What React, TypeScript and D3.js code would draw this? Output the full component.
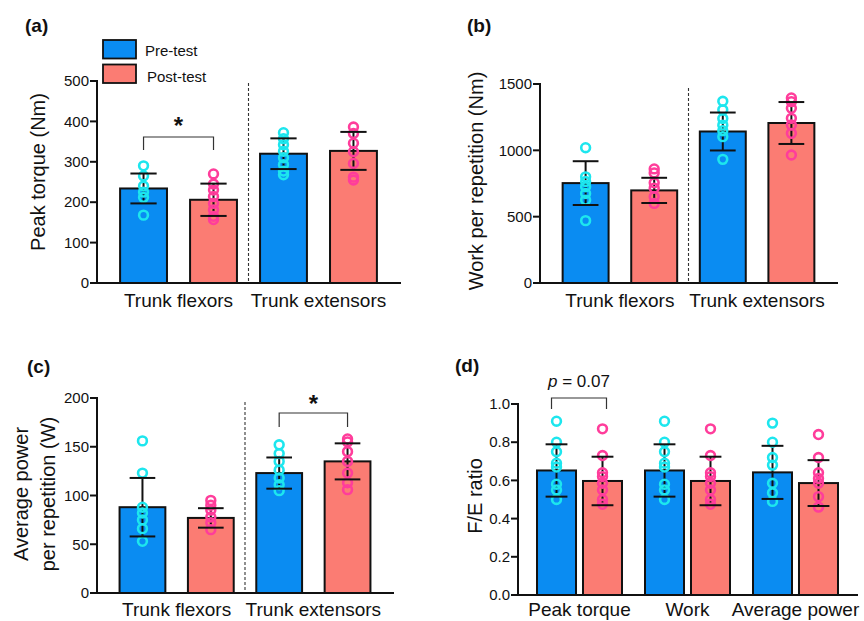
import React from "react";
import * as d3 from "d3";

// ---------- categories ----------
const trunkGroups = ["Trunk flexors", "Trunk extensors"];
const ratioGroups = ["Peak torque", "Work", "Average power"];
const seriesNames = ["Pre-test", "Post-test"];

// ---------- (a) Peak torque (Nm) ----------
const torquePreMean = [234, 320];
const torquePreSD = [37, 38];
const torquePostMean = [206, 327];
const torquePostSD = [40, 47];
const torquePrePoints = [
  [290, 265, 240, 225, 212, 168],
  [372, 357, 342, 326, 310, 293, 277, 268],
];
const torquePostPoints = [
  [270, 245, 230, 214, 197, 181, 165, 157],
  [386, 370, 346, 325, 296, 262, 255],
];
const torqueTicks = [0, 100, 200, 300, 400, 500];

// ---------- (b) Work per repetition (Nm) ----------
const workPreMean = [753, 1142];
const workPreSD = [165, 143];
const workPostMean = [698, 1206];
const workPostSD = [95, 158];
const workPrePoints = [
  [1020, 800, 765, 725, 675, 625, 470],
  [1370, 1305, 1240, 1190, 1148, 1103, 932],
];
const workPostPoints = [
  [860, 830, 755, 715, 650, 600],
  [1395, 1367, 1317, 1241, 1191, 1128, 965],
];
const workTicks = [0, 500, 1000, 1500];

// ---------- (c) Average power per repetition (W) ----------
const powerPreMean = [88, 123];
const powerPreSD = [30, 16];
const powerPostMean = [77, 135];
const powerPostSD = [10, 18.5];
const powerPrePoints = [
  [156, 123, 88, 82, 75, 66, 53],
  [152, 143, 135, 126, 118, 111, 105],
];
const powerPostPoints = [
  [95, 90, 85, 78, 72, 65],
  [158, 155, 145, 135, 123, 113, 106],
];
const powerTicks = [0, 50, 100, 150, 200];

// ---------- (d) F/E ratio ----------
const ratioPreMean = [0.652, 0.652, 0.642];
const ratioPreSD = [0.137, 0.137, 0.139];
const ratioPostMean = [0.597, 0.597, 0.586];
const ratioPostSD = [0.127, 0.127, 0.12];
const ratioPrePoints = [
  [0.91, 0.8, 0.75, 0.69, 0.67, 0.58, 0.55, 0.5],
  [0.91, 0.8, 0.75, 0.69, 0.67, 0.58, 0.55, 0.5],
  [0.9, 0.8, 0.72, 0.68, 0.585, 0.535, 0.49],
];
const ratioPostPoints = [
  [0.87, 0.73, 0.64, 0.62, 0.585, 0.55, 0.5, 0.475],
  [0.87, 0.73, 0.64, 0.62, 0.585, 0.55, 0.5, 0.475],
  [0.84, 0.72, 0.64, 0.61, 0.585, 0.515, 0.46],
];
const ratioTicks = [0, 0.2, 0.4, 0.6, 0.8, 1.0];

// ---------- styles ----------
const FONT = "'Liberation Sans', Arial, Helvetica, sans-serif";
const barFill = ["#0a8cf2", "#fb7c73"];
const dotStroke = ["#1de6ee", "#ff3d9b"];

type PanelCfg = {
  tag: string;
  tagX: number;
  tagY: number;
  groups: string[];
  means: number[][];
  sds: number[][];
  points: number[][][];
  ticks: number[];
  fmt: (v: number) => string;
  left: number;
  right: number;
  top: number;
  bottom: number;
  pIn: number;
  pOut: number;
  barPad: number;
  yLabel: string[];
  yLabelX: number[];
  yLabelCY: number;
  xLabelY: number;
  divider?: { y1: number };
  bracket?: { g: number; top: number; drop: number; text: string; textY: number; dx1?: number; dx2?: number };
};

const panels: PanelCfg[] = [
  {
    tag: "(a)", tagX: 25, tagY: 32,
    groups: trunkGroups,
    means: [torquePreMean, torquePostMean],
    sds: [torquePreSD, torquePostSD],
    points: [torquePrePoints, torquePostPoints],
    ticks: torqueTicks, fmt: d3.format("d"),
    left: 97, right: 400, top: 81, bottom: 283,
    pIn: 0.165, pOut: 0.165, barPad: 0.33,
    yLabel: ["Peak torque (Nm)"], yLabelX: [44.5], yLabelCY: 172,
    xLabelY: 307,
    divider: { y1: 83 },
    bracket: { g: 0, top: 137, drop: 13, text: "*", textY: 134 },
  },
  {
    tag: "(b)", tagX: 467, tagY: 32,
    groups: trunkGroups,
    means: [workPreMean, workPostMean],
    sds: [workPreSD, workPostSD],
    points: [workPrePoints, workPostPoints],
    ticks: workTicks, fmt: d3.format("d"),
    left: 540, right: 837, top: 84, bottom: 283,
    pIn: 0.165, pOut: 0.165, barPad: 0.33,
    yLabel: ["Work per repetition (Nm)"], yLabelX: [483], yLabelCY: 181,
    xLabelY: 307,
    divider: { y1: 88 },
  },
  {
    tag: "(c)", tagX: 27, tagY: 373,
    groups: trunkGroups,
    means: [powerPreMean, powerPostMean],
    sds: [powerPreSD, powerPostSD],
    points: [powerPrePoints, powerPostPoints],
    ticks: powerTicks, fmt: d3.format("d"),
    left: 97, right: 393, top: 398, bottom: 593,
    pIn: 0.165, pOut: 0.165, barPad: 0.33,
    yLabel: ["Average power", "per repetition (W)"], yLabelX: [27.5, 54.5], yLabelCY: 494,
    xLabelY: 616,
    divider: { y1: 402 },
    bracket: { g: 1, top: 413, drop: 14, text: "*", textY: 412 },
  },
  {
    tag: "(d)", tagX: 455, tagY: 372,
    groups: ratioGroups,
    means: [ratioPreMean, ratioPostMean],
    sds: [ratioPreSD, ratioPostSD],
    points: [ratioPrePoints, ratioPostPoints],
    ticks: ratioTicks, fmt: d3.format(".1f"),
    left: 518, right: 857, top: 404, bottom: 595,
    pIn: 0.213, pOut: 0.176, barPad: 0.152,
    yLabel: ["F/E ratio"], yLabelX: [482], yLabelCY: 496,
    xLabelY: 616,
    bracket: { g: 0, top: 398, drop: 11, text: "p = 0.07", textY: 387, dx1: -5, dx2: 4 },
  },
];

function Panel({ cfg }: { cfg: PanelCfg }) {
  const x0 = d3
    .scaleBand<string>()
    .domain(cfg.groups)
    .range([cfg.left, cfg.right])
    .paddingInner(cfg.pIn)
    .paddingOuter(cfg.pOut);
  const x1 = d3
    .scaleBand<string>()
    .domain(seriesNames)
    .range([0, x0.bandwidth()])
    .paddingInner(cfg.barPad)
    .paddingOuter(0);
  const y = d3
    .scaleLinear()
    .domain([0, cfg.ticks[cfg.ticks.length - 1]])
    .range([cfg.bottom, cfg.top]);
  const bw = x1.bandwidth();
  const cap = bw * 0.56;
  const cx = (g: number, s: number) => (x0(cfg.groups[g]) as number) + (x1(seriesNames[s]) as number) + bw / 2;

  const bars: React.ReactNode[] = [];
  cfg.groups.forEach((gName, g) => {
    seriesNames.forEach((sName, s) => {
      const m = cfg.means[s][g];
      const sd = cfg.sds[s][g];
      const xc = cx(g, s);
      const xl = xc - bw / 2;
      bars.push(
        <g key={`${gName}-${sName}`}>
          <rect x={xl} y={y(m)} width={bw} height={y(0) - y(m)} fill={barFill[s]} stroke="#111" strokeWidth={2} />
          <line x1={xc} x2={xc} y1={y(m - sd)} y2={y(m + sd)} stroke="#111" strokeWidth={2} />
          {cfg.points[s][g].map((v, i) => (
            <circle key={i} cx={xc} cy={y(v)} r={4.4} fill="none" stroke={dotStroke[s]} strokeWidth={2.6} />
          ))}
          <line x1={xc - cap / 2} x2={xc + cap / 2} y1={y(m + sd)} y2={y(m + sd)} stroke="#111" strokeWidth={2} />
          <line x1={xc - cap / 2} x2={xc + cap / 2} y1={y(m - sd)} y2={y(m - sd)} stroke="#111" strokeWidth={2} />
        </g>
      );
    });
  });

  let divider: React.ReactNode = null;
  if (cfg.divider && cfg.groups.length === 2) {
    const end0 = (x0(cfg.groups[0]) as number) + x0.bandwidth();
    const start1 = x0(cfg.groups[1]) as number;
    const dx = (end0 + start1) / 2;
    divider = (
      <line x1={dx} x2={dx} y1={cfg.divider.y1} y2={y(0)} stroke="#333" strokeWidth={1.1} strokeDasharray="3,2" />
    );
  }

  let bracket: React.ReactNode = null;
  if (cfg.bracket) {
    const b = cfg.bracket;
    const bx1 = cx(b.g, 0) + (b.dx1 || 0);
    const bx2 = cx(b.g, 1) + (b.dx2 || 0);
    const isStar = b.text === "*";
    bracket = (
      <g>
        <path
          d={`M${bx1},${b.top + b.drop}V${b.top}H${bx2}V${b.top + b.drop}`}
          fill="none"
          stroke="#333"
          strokeWidth={1.2}
        />
        {isStar ? (
          <text x={(bx1 + bx2) / 2} y={b.textY} textAnchor="middle" fontSize={24} fontWeight="bold" fill="#111">
            *
          </text>
        ) : (
          <text x={(bx1 + bx2) / 2} y={b.textY} textAnchor="middle" fontSize={17} fill="#111">
            <tspan fontStyle="italic">p</tspan>
            <tspan> = 0.07</tspan>
          </text>
        )}
      </g>
    );
  }

  return (
    <g fontFamily={FONT}>
      <text x={cfg.tagX} y={cfg.tagY} fontSize={19} fontWeight="bold" fill="#111">
        {cfg.tag}
      </text>
      {cfg.yLabel.map((t, i) => (
        <text
          key={t}
          transform={`translate(${cfg.yLabelX[i]},${cfg.yLabelCY}) rotate(-90)`}
          textAnchor="middle"
          fontSize={20}
          fill="#111"
        >
          {t}
        </text>
      ))}
      {divider}
      {bars}
      {/* y axis */}
      <line x1={cfg.left} x2={cfg.left} y1={y(cfg.ticks[cfg.ticks.length - 1])} y2={y(0)} stroke="#111" strokeWidth={2} strokeLinecap="square" />
      {cfg.ticks.map((t) => (
        <g key={t}>
          <line x1={cfg.left - 7} x2={cfg.left} y1={y(t)} y2={y(t)} stroke="#111" strokeWidth={2} />
          <text x={cfg.left - 8} y={y(t)} dy="0.35em" textAnchor="end" fontSize={15} fill="#111">
            {cfg.fmt(t)}
          </text>
        </g>
      ))}
      {/* x axis */}
      <line x1={cfg.left} x2={cfg.right} y1={y(0)} y2={y(0)} stroke="#111" strokeWidth={2} strokeLinecap="square" />
      {cfg.groups.map((gName) => (
        <text
          key={gName}
          x={(x0(gName) as number) + x0.bandwidth() / 2}
          y={cfg.xLabelY}
          textAnchor="middle"
          fontSize={19}
          fill="#111"
        >
          {gName}
        </text>
      ))}
      {bracket}
    </g>
  );
}

function Legend() {
  return (
    <g fontFamily={FONT}>
      {seriesNames.map((s, i) => (
        <g key={s}>
          <rect x={103} y={40 + i * 24.5} width={33} height={18.5} fill={barFill[i]} stroke="#111" strokeWidth={1.8} />
          <text x={145 + i * 2} y={56 + i * 26} fontSize={15} fill="#111">
            {s}
          </text>
        </g>
      ))}
    </g>
  );
}

export default function App() {
  return (
    <svg
      width={864}
      height={621}
      viewBox="0 0 864 621"
      style={{ position: "absolute", left: 0, top: 0, background: "#fff" }}
    >
      <rect width={864} height={621} fill="#fff" />
      {panels.map((p) => (
        <Panel key={p.tag} cfg={p} />
      ))}
      <Legend />
    </svg>
  );
}
